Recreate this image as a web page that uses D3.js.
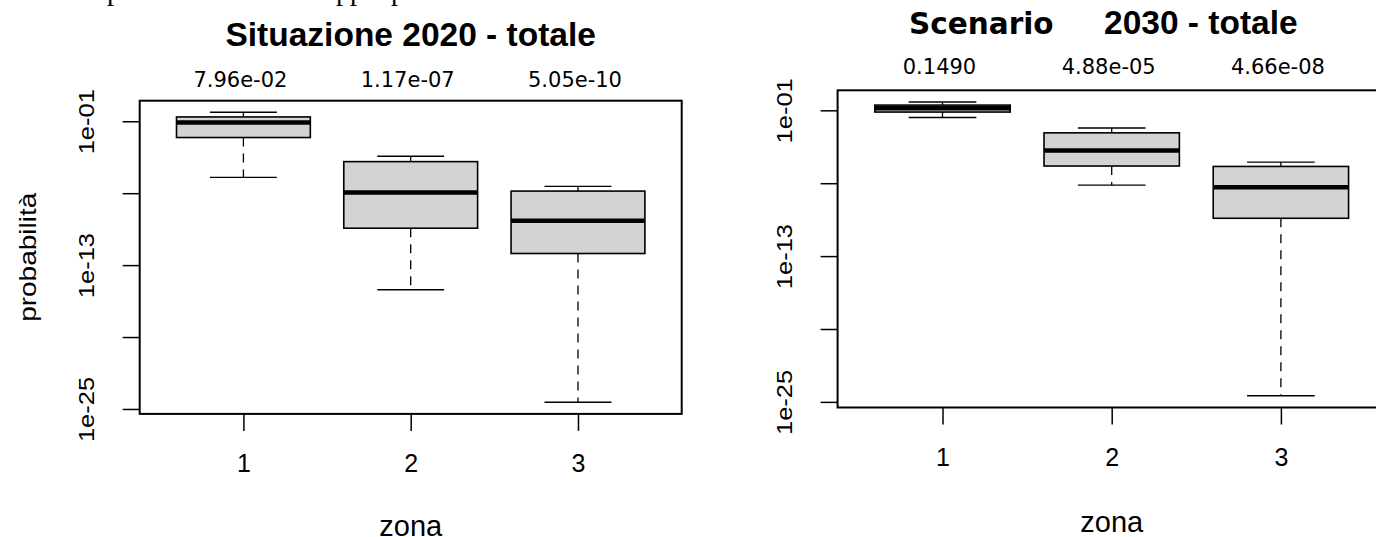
<!DOCTYPE html>
<html>
<head>
<meta charset="utf-8">
<script src="https://cdn.jsdelivr.net/npm/d3@7"></script>
<style>
  html, body { margin: 0; padding: 0; background: #fff; overflow: hidden; }
  svg { display: block; }
  .rtxt { font-family: "Liberation Sans", Arial, sans-serif; fill: #000; }
  .dtxt { font-family: "DejaVu Sans", sans-serif; fill: #000; }
</style>
</head>
<body>
<svg id="chart" width="1376" height="537"></svg>
<script>
// === Datos ===
const zones = [1, 2, 3];

// Situazione 2020
const sit2020WhiskLow = [2.1e-6, 8.7e-16, 3.6e-25];
const sit2020Q1 = [4.4e-3, 1.2e-10, 9.3e-13];
const sit2020Median = [7.96e-2, 1.17e-7, 5.05e-10];
const sit2020Q3 = [2.3e-1, 4.3e-5, 1.5e-7];
const sit2020WhiskHigh = [5.6e-1, 1.2e-4, 3.7e-7];
const sit2020Labels = ['7.96e-02', '1.17e-07', '5.05e-10'];

// Scenario 2030
const sc2030WhiskLow = [2.6e-2, 6.9e-8, 3.2e-25];
const sc2030Q1 = [7.2e-2, 2.6e-6, 1.3e-10];
const sc2030Median = [0.149, 4.88e-5, 4.66e-8];
const sc2030Q3 = [2.7e-1, 1.4e-3, 2.4e-6];
const sc2030WhiskHigh = [4.8e-1, 3.5e-3, 5.4e-6];
const sc2030Labels = ['0.1490', '4.88e-05', '4.66e-08'];

// assi
const yTicks = [1e-1, 1e-7, 1e-13, 1e-19, 1e-25];
const yTickLabels = ['1e-01', '', '1e-13', '', '1e-25'];
const xTickLabels = ['1', '2', '3'];

const svg = d3.select('#chart');

// resti di una riga di testo sopra (tagliata dal bordo)
const cut = svg.append('g').attr('class', 'rtxt').style('font-family', '"Liberation Serif", serif').style('font-size', '28px');
[['p', 107], ['pp', 336], ['p', 391]].forEach(([t, x]) => cut.append('text').attr('x', x).attr('y', 0).text(t));

function drawPanel(p) {
  const g = svg.append('g');
  const boxes = zones.map((z, i) => ({
    zone: z, lo: p.low[i], q1: p.q1[i], med: p.med[i], q3: p.q3[i], hi: p.high[i], label: p.labels[i]
  }));

  // dominio y in log, con il 4% di margine come in R
  const lmin = Math.log10(d3.min(p.low)), lmax = Math.log10(d3.max(p.high));
  const pad = 0.04 * (lmax - lmin);
  const y = d3.scaleLog().domain([10 ** (lmin - pad), 10 ** (lmax + pad)]).range([p.bottom, p.top]);
  const x = d3.scaleLinear().domain([0.38, 3.62]).range([p.left, p.right]);
  const bw = 0.4, sw = 0.2;

  // baffi tratteggiati
  const bx = g.selectAll('g.bx').data(boxes).join('g').attr('class', 'bx');
  bx.append('line')
    .attr('x1', d => x(d.zone)).attr('x2', d => x(d.zone))
    .attr('y1', d => y(d.hi)).attr('y2', d => y(d.q3))
    .attr('stroke', '#000').attr('stroke-width', 1.3).attr('stroke-dasharray', '9,7');
  bx.append('line')
    .attr('x1', d => x(d.zone)).attr('x2', d => x(d.zone))
    .attr('y1', d => y(d.q1)).attr('y2', d => y(d.lo))
    .attr('stroke', '#000').attr('stroke-width', 1.3).attr('stroke-dasharray', '9,7');
  // staple
  ['hi', 'lo'].forEach(k => {
    bx.append('line')
      .attr('x1', d => x(d.zone - sw)).attr('x2', d => x(d.zone + sw))
      .attr('y1', d => y(d[k])).attr('y2', d => y(d[k]))
      .attr('stroke', '#000').attr('stroke-width', 1.4);
  });
  // scatola
  bx.append('rect')
    .attr('x', d => x(d.zone - bw)).attr('width', d => x(d.zone + bw) - x(d.zone - bw))
    .attr('y', d => y(d.q3)).attr('height', d => y(d.q1) - y(d.q3))
    .attr('fill', '#d3d3d3').attr('stroke', '#000').attr('stroke-width', 1.6);
  // mediana
  bx.append('line')
    .attr('x1', d => x(d.zone - bw)).attr('x2', d => x(d.zone + bw))
    .attr('y1', d => y(d.med)).attr('y2', d => y(d.med))
    .attr('stroke', '#000').attr('stroke-width', 4.5);

  // cornice
  g.append('rect')
    .attr('x', p.left).attr('y', p.top)
    .attr('width', p.right - p.left).attr('height', p.bottom - p.top)
    .attr('fill', 'none').attr('stroke', '#000').attr('stroke-width', 2);

  // asse y
  const ya = g.append('g').attr('transform', `translate(${p.left},0)`)
    .call(d3.axisLeft(y).tickValues(yTicks).tickSize(17).tickFormat((d, i) => yTickLabels[i]));
  ya.select('.domain').remove();
  ya.selectAll('.tick line').attr('stroke', '#000').attr('stroke-width', 1.5);
  ya.selectAll('.tick text')
    .attr('class', 'rtxt').attr('fill', '#000')
    .attr('transform', 'rotate(-90) translate(0,-45.5) scale(1,0.88)')
    .attr('x', 0).attr('y', 0).attr('dy', 0)
    .attr('text-anchor', 'middle')
    .style('font-size', '25.5px');
  ya.attr('font-family', null).attr('font-size', null);

  // asse x
  const xa = g.append('g').attr('transform', `translate(0,${p.bottom})`)
    .call(d3.axisBottom(x).tickValues(zones).tickSize(17).tickFormat((d, i) => xTickLabels[i]));
  xa.select('.domain').remove();
  xa.selectAll('.tick line').attr('stroke', '#000').attr('stroke-width', 1.5);
  xa.selectAll('.tick text')
    .attr('class', 'rtxt').attr('fill', '#000')
    .attr('y', 58).attr('dy', 0)
    .style('font-size', '25px');
  xa.attr('font-family', null).attr('font-size', null);

  // etichette sopra (mediane)
  g.selectAll('text.med').data(boxes).join('text')
    .attr('class', 'dtxt med')
    .attr('x', d => x(d.zone) - 3).attr('y', p.top + p.labelDy)
    .attr('text-anchor', 'middle').style('font-size', '21px')
    .text(d => d.label);

  // titolo asse x
  g.append('text').attr('class', 'rtxt')
    .attr('x', x(2)).attr('y', p.bottom + p.zonaDy)
    .attr('text-anchor', 'middle').style('font-size', '29px')
    .text('zona');

  return { g, x, y };
}

// pannello sinistro
const left = drawPanel({
  left: 139.7, right: 681.7, top: 100.7, bottom: 413.9,
  low: sit2020WhiskLow, q1: sit2020Q1, med: sit2020Median, q3: sit2020Q3, high: sit2020WhiskHigh,
  labels: sit2020Labels, labelDy: -14, zonaDy: 122
});
left.g.append('text').attr('class', 'rtxt')
  .attr('x', left.x(2)).attr('y', 46)
  .attr('text-anchor', 'middle').style('font-size', '33.5px').style('font-weight', 'bold')
  .text('Situazione 2020 - totale');
left.g.append('text').attr('class', 'rtxt')
  .attr('transform', `translate(35.5,${(100.7 + 413.9) / 2}) rotate(-90) scale(1,0.85)`)
  .attr('text-anchor', 'middle').style('font-size', '28px')
  .text('probabilità');

// pannello destro
const right = drawPanel({
  left: 837.6, right: 1385.8, top: 90.3, bottom: 407.5,
  low: sc2030WhiskLow, q1: sc2030Q1, med: sc2030Median, q3: sc2030Q3, high: sc2030WhiskHigh,
  labels: sc2030Labels, labelDy: -16, zonaDy: 124.5
});
const t2 = right.g.append('text').attr('y', 33.5).style('font-weight', 'bold');
t2.append('tspan').attr('class', 'dtxt').attr('x', 909).style('font-size', '29.5px').text('Scenario');
t2.append('tspan').attr('class', 'rtxt').attr('x', 1104).style('font-size', '33.5px').text('2030 - totale');
</script>
</body>
</html>
